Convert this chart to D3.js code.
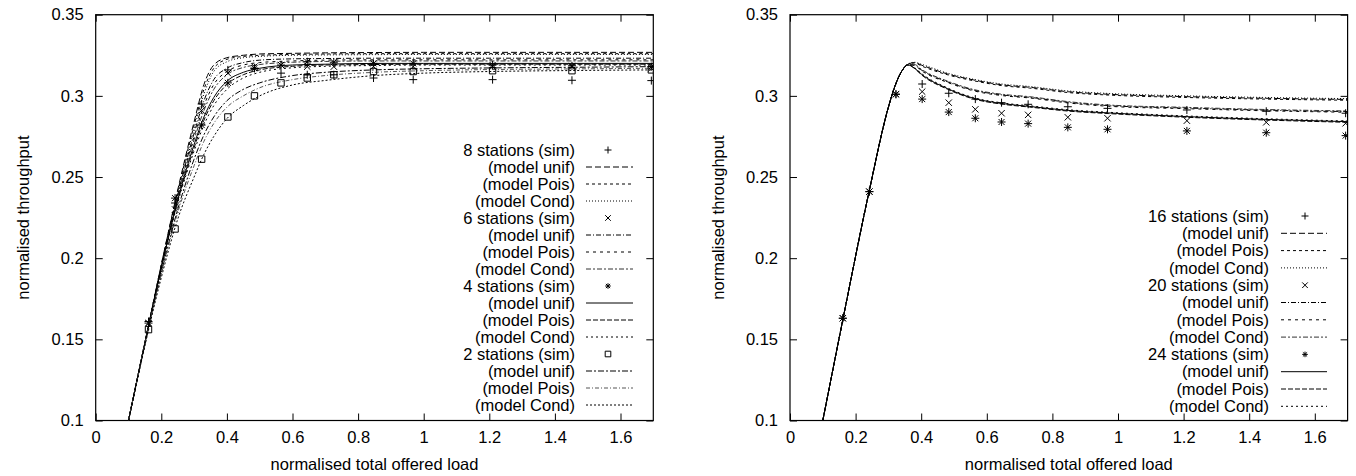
<!DOCTYPE html>
<html>
<head>
<meta charset="utf-8">
<script src="https://cdn.jsdelivr.net/npm/d3@7"></script>
<style>
body { margin: 0; background: #fff; }
text { font-family: "Liberation Sans", Arial, Helvetica, sans-serif; fill: #000; }
</style>
</head>
<body>
<svg id="chart"></svg>
<script>
const width = 1356;
const height = 476;

// tick labels
const xTicks = [0, 0.2, 0.4, 0.6, 0.8, 1, 1.2, 1.4, 1.6];
const yTicks = [0.1, 0.15, 0.2, 0.25, 0.3, 0.35];

// simulated load points (same in both panels)
const simLoad = [0.161, 0.242, 0.323, 0.403, 0.484, 0.565, 0.645, 0.726, 0.847, 0.968, 1.21, 1.452, 1.694];

// left panel: 8, 6, 4, 2 stations
const sim8 = [0.161, 0.234, 0.295, 0.316, 0.317, 0.314, 0.313, 0.313, 0.311, 0.310, 0.310, 0.3096, 0.3094];
const sim6 = [0.160, 0.230, 0.291, 0.314, 0.318, 0.319, 0.318, 0.318, 0.318, 0.318, 0.318, 0.318, 0.317];
const sim4 = [0.160, 0.237, 0.282, 0.308, 0.317, 0.319, 0.321, 0.3207, 0.320, 0.320, 0.319, 0.3185, 0.318];
const sim2 = [0.156, 0.218, 0.261, 0.287, 0.300, 0.308, 0.311, 0.313, 0.315, 0.315, 0.3155, 0.3155, 0.316];

const modelLoadL = [0.1, 0.15, 0.2, 0.25, 0.3, 0.33, 0.36, 0.4, 0.45, 0.5, 0.6, 0.7, 0.85, 1.0, 1.2, 1.45, 1.7];
const unif8 = [0.1, 0.148, 0.196, 0.242, 0.284, 0.307, 0.319, 0.3235, 0.325, 0.3258, 0.3262, 0.3265, 0.3267, 0.3268, 0.3268, 0.3268, 0.3268];
const pois8 = [0.1, 0.148, 0.196, 0.241, 0.282, 0.304, 0.317, 0.3225, 0.3243, 0.325, 0.3255, 0.3258, 0.326, 0.326, 0.326, 0.326, 0.326];
const cond8 = [0.1, 0.148, 0.195, 0.24, 0.28, 0.301, 0.315, 0.321, 0.3235, 0.3243, 0.325, 0.3252, 0.3254, 0.3255, 0.3255, 0.3255, 0.3255];
const unif6 = [0.1, 0.148, 0.195, 0.239, 0.277, 0.297, 0.31, 0.317, 0.3205, 0.322, 0.3228, 0.323, 0.3232, 0.3232, 0.3232, 0.3232, 0.3232];
const pois6 = [0.1, 0.148, 0.195, 0.238, 0.275, 0.294, 0.307, 0.315, 0.319, 0.3205, 0.3215, 0.322, 0.3222, 0.3222, 0.3222, 0.3222, 0.3222];
const cond6 = [0.1, 0.148, 0.194, 0.237, 0.273, 0.291, 0.304, 0.313, 0.3175, 0.3193, 0.3207, 0.3212, 0.3215, 0.3215, 0.3215, 0.3215, 0.3215];
const unif4 = [0.1, 0.148, 0.194, 0.236, 0.27, 0.287, 0.299, 0.309, 0.3145, 0.317, 0.319, 0.3195, 0.32, 0.32, 0.32, 0.32, 0.32];
const pois4 = [0.1, 0.147, 0.194, 0.235, 0.268, 0.285, 0.297, 0.307, 0.313, 0.316, 0.3182, 0.319, 0.3193, 0.3195, 0.3195, 0.3195, 0.3195];
const cond4 = [0.1, 0.147, 0.193, 0.234, 0.266, 0.282, 0.294, 0.304, 0.311, 0.3145, 0.3173, 0.3182, 0.3187, 0.319, 0.319, 0.319, 0.319];
const unif2 = [0.1, 0.147, 0.191, 0.23, 0.261, 0.276, 0.287, 0.297, 0.304, 0.308, 0.3125, 0.3145, 0.316, 0.3167, 0.3172, 0.3176, 0.318];
const pois2 = [0.1, 0.147, 0.19, 0.228, 0.257, 0.272, 0.283, 0.293, 0.3, 0.305, 0.31, 0.3125, 0.3145, 0.3155, 0.3162, 0.3166, 0.317];
const cond2 = [0.1, 0.146, 0.188, 0.224, 0.25, 0.264, 0.275, 0.286, 0.294, 0.3, 0.3067, 0.3095, 0.3125, 0.314, 0.315, 0.3156, 0.316];

// right panel: 16, 20, 24 stations
const sim16 = [0.163, 0.241, 0.301, 0.3073, 0.3016, 0.298, 0.2958, 0.2948, 0.2933, 0.2923, 0.2913, 0.2905, 0.2893];
const sim20 = [0.163, 0.241, 0.301, 0.3026, 0.2958, 0.2917, 0.2893, 0.2883, 0.2868, 0.2862, 0.2847, 0.2837, 0.2831];
const sim24 = [0.163, 0.241, 0.301, 0.298, 0.290, 0.2862, 0.2839, 0.2829, 0.2806, 0.2794, 0.2784, 0.2773, 0.2755];

const modelLoadR = [0.1, 0.16, 0.24, 0.3, 0.32, 0.34, 0.36, 0.38, 0.4, 0.48, 0.56, 0.65, 0.73, 0.85, 0.97, 1.21, 1.45, 1.7];
const unif16 = [0.1, 0.161, 0.24, 0.293, 0.306, 0.315, 0.3195, 0.3205, 0.319, 0.3135, 0.3098, 0.3067, 0.3053, 0.3025, 0.301, 0.2995, 0.2985, 0.2978];
const pois16 = [0.1, 0.161, 0.24, 0.293, 0.306, 0.315, 0.3195, 0.3203, 0.3185, 0.313, 0.3093, 0.3062, 0.3048, 0.302, 0.3005, 0.299, 0.298, 0.2973];
const cond16 = [0.1, 0.161, 0.24, 0.293, 0.306, 0.315, 0.3197, 0.3207, 0.3195, 0.314, 0.3102, 0.3072, 0.3058, 0.303, 0.3015, 0.3, 0.299, 0.2983];
const unif20 = [0.1, 0.161, 0.24, 0.293, 0.306, 0.315, 0.3193, 0.319, 0.316, 0.3087, 0.3035, 0.3005, 0.2991, 0.296, 0.294, 0.2925, 0.2912, 0.2903];
const pois20 = [0.1, 0.161, 0.24, 0.293, 0.306, 0.315, 0.3192, 0.3187, 0.3156, 0.3083, 0.3031, 0.3001, 0.2987, 0.2956, 0.2936, 0.2921, 0.2908, 0.2899];
const cond20 = [0.1, 0.161, 0.24, 0.293, 0.306, 0.315, 0.3194, 0.3193, 0.3164, 0.3091, 0.3039, 0.3009, 0.2995, 0.2964, 0.2944, 0.2929, 0.2916, 0.2907];
const unif24 = [0.1, 0.161, 0.24, 0.293, 0.306, 0.315, 0.319, 0.317, 0.3135, 0.3045, 0.2985, 0.2952, 0.2935, 0.291, 0.2895, 0.2872, 0.2855, 0.2841];
const pois24 = [0.1, 0.161, 0.24, 0.293, 0.306, 0.315, 0.319, 0.3168, 0.3131, 0.3041, 0.2981, 0.2948, 0.2931, 0.2906, 0.2891, 0.2868, 0.2851, 0.2837];
const cond24 = [0.1, 0.161, 0.24, 0.293, 0.306, 0.315, 0.3191, 0.3173, 0.3139, 0.3049, 0.2989, 0.2956, 0.2939, 0.2914, 0.2899, 0.2876, 0.2859, 0.2845];

const svg = d3.select("#chart").attr("width", width).attr("height", height);
svg.append("rect").attr("width", width).attr("height", height).attr("fill", "#fff");

// marker shapes
function markerPath(type, s) {
	const p = d3.path();
	if (type === "plus" || type === "star") {
		p.moveTo(-s, 0); p.lineTo(s, 0);
		p.moveTo(0, -s); p.lineTo(0, s);
	}
	if (type === "cross" || type === "star") {
		const c = type === "star" ? s * 0.75 : s;
		p.moveTo(-c, -c); p.lineTo(c, c);
		p.moveTo(-c, c); p.lineTo(c, -c);
	}
	if (type === "square") {
		p.rect(-s, -s, 2 * s, 2 * s);
	}
	return p.toString();
}

function drawPanel(box, sims, models, loads, legend, idx) {
	const x = d3.scaleLinear().domain([0, 1.7]).range([box.left, box.right]);
	const y = d3.scaleLinear().domain([0.1, 0.35]).range([box.bottom, box.top]);
	const g = svg.append("g");

	const clipId = "clip" + idx;
	svg.append("clipPath").attr("id", clipId)
		.append("rect")
		.attr("x", box.left).attr("y", box.top)
		.attr("width", box.right - box.left).attr("height", box.bottom - box.top);

	// axes, ticks pointing inward and mirrored
	const fmt = d => String(+d.toFixed(2));
	g.append("g").attr("transform", `translate(0,${box.bottom})`)
		.call(d3.axisBottom(x).tickValues(xTicks).tickFormat(fmt).tickSize(-7).tickPadding(11));
	g.append("g").attr("transform", `translate(0,${box.top})`)
		.call(d3.axisTop(x).tickValues(xTicks).tickFormat("").tickSize(-7));
	g.append("g").attr("transform", `translate(${box.left},0)`)
		.call(d3.axisLeft(y).tickValues(yTicks).tickFormat(fmt).tickSize(-7).tickPadding(12));
	g.append("g").attr("transform", `translate(${box.right},0)`)
		.call(d3.axisRight(y).tickValues(yTicks).tickFormat("").tickSize(-7));
	g.selectAll(".domain").remove();
	g.selectAll(".tick line").attr("stroke", "#000").attr("stroke-width", 1);
	g.selectAll(".tick text").style("font-size", "16.5px").attr("fill", "#000");

	g.append("rect")
		.attr("x", box.left).attr("y", box.top)
		.attr("width", box.right - box.left).attr("height", box.bottom - box.top)
		.attr("fill", "none").attr("stroke", "#000").attr("stroke-width", 1.2);

	// axis titles
	g.append("text")
		.attr("x", (box.left + box.right) / 2).attr("y", 464)
		.attr("text-anchor", "middle").attr("dy", "0.35em")
		.style("font-size", "16.5px")
		.text("normalised total offered load");
	g.append("text")
		.attr("transform", `translate(${box.left - 72},${(box.top + box.bottom) / 2}) rotate(-90)`)
		.attr("text-anchor", "middle").attr("dy", "0.35em")
		.style("font-size", "16.5px")
		.text("normalised throughput");

	// model curves
	const line = d3.line()
		.x(d => x(d[0]))
		.y(d => y(d[1]))
		.curve(d3.curveMonotoneX);
	const plot = g.append("g").attr("clip-path", `url(#${clipId})`);
	models.forEach(m => {
		plot.append("path")
			.attr("d", line(loads.map((l, i) => [l, m.values[i]])))
			.attr("fill", "none")
			.attr("stroke", m.color)
			.attr("stroke-width", 1)
			.attr("stroke-dasharray", m.dash);
	});

	// simulation points
	sims.forEach(s => {
		plot.selectAll(null)
			.data(simLoad.map((l, i) => [l, s.values[i]]))
			.join("path")
			.attr("transform", d => `translate(${x(d[0])},${y(d[1])})`)
			.attr("d", markerPath(s.marker, s.size))
			.attr("fill", "none")
			.attr("stroke", "#000")
			.attr("stroke-width", 1);
	});

	// legend
	const lg = g.append("g");
	legend.rows.forEach((r, i) => {
		const ry = legend.y0 + i * legend.dy;
		lg.append("text")
			.attr("x", legend.textX).attr("y", ry)
			.attr("text-anchor", "end").attr("dy", "0.35em")
			.style("font-size", "16.5px")
			.text(r.label);
		if (r.marker) {
			lg.append("path")
				.attr("transform", `translate(${legend.markX},${ry})`)
				.attr("d", markerPath(r.marker, r.marker === "plus" ? 3.5 : 2.8))
				.attr("fill", "none").attr("stroke", "#000").attr("stroke-width", 1);
		} else {
			lg.append("line")
				.attr("x1", legend.lineX0).attr("x2", legend.lineX1)
				.attr("y1", ry).attr("y2", ry)
				.attr("stroke", r.color).attr("stroke-width", 1)
				.attr("stroke-dasharray", r.dash);
		}
	});
}

// left panel
const modelsL = [
	{ name: "8 unif", values: unif8, dash: "6,3", color: "#000" },
	{ name: "8 Pois", values: pois8, dash: "3,3", color: "#000" },
	{ name: "8 Cond", values: cond8, dash: "1,2", color: "#000" },
	{ name: "6 unif", values: unif6, dash: "5,2,1,2", color: "#000" },
	{ name: "6 Pois", values: pois6, dash: "3,4", color: "#000" },
	{ name: "6 Cond", values: cond6, dash: "5,2,2,2", color: "#333" },
	{ name: "4 unif", values: unif4, dash: null, color: "#000" },
	{ name: "4 Pois", values: pois4, dash: "5,2", color: "#000" },
	{ name: "4 Cond", values: cond4, dash: "2,3", color: "#000" },
	{ name: "2 unif", values: unif2, dash: "6,2,2,2", color: "#000" },
	{ name: "2 Pois", values: pois2, dash: "4,2,1,2", color: "#555" },
	{ name: "2 Cond", values: cond2, dash: "2,2", color: "#000" }
];
const simsL = [
	{ values: sim8, marker: "plus", size: 4 },
	{ values: sim6, marker: "cross", size: 3.2 },
	{ values: sim4, marker: "star", size: 4 },
	{ values: sim2, marker: "square", size: 3.2 }
];
const stationsL = ["8", "6", "4", "2"];
const simMarkersL = ["plus", "cross", "star", "square"];
const rowsL = [];
stationsL.forEach((st, k) => {
	rowsL.push({ label: `${st} stations (sim)`, marker: simMarkersL[k] });
	["unif", "Pois", "Cond"].forEach((mn, j) => {
		const m = modelsL[k * 3 + j];
		rowsL.push({ label: `(model ${mn})`, dash: m.dash, color: m.color });
	});
});
drawPanel(
	{ left: 95.7, right: 653.3, top: 14.7, bottom: 420.5 },
	simsL, modelsL, modelLoadL,
	{ rows: rowsL, y0: 150, dy: 17, textX: 575, lineX0: 586, lineX1: 633, markX: 608 },
	0
);

// right panel
const modelsR = [
	{ name: "16 unif", values: unif16, dash: "6,3", color: "#000" },
	{ name: "16 Pois", values: pois16, dash: "3,3", color: "#000" },
	{ name: "16 Cond", values: cond16, dash: "1,2", color: "#000" },
	{ name: "20 unif", values: unif20, dash: "5,2,1,2", color: "#000" },
	{ name: "20 Pois", values: pois20, dash: "3,4", color: "#000" },
	{ name: "20 Cond", values: cond20, dash: "5,2,2,2", color: "#333" },
	{ name: "24 unif", values: unif24, dash: null, color: "#000" },
	{ name: "24 Pois", values: pois24, dash: "5,2", color: "#000" },
	{ name: "24 Cond", values: cond24, dash: "2,3", color: "#000" }
];
const simsR = [
	{ values: sim16, marker: "plus", size: 4 },
	{ values: sim20, marker: "cross", size: 3.2 },
	{ values: sim24, marker: "star", size: 4 }
];
const stationsR = ["16", "20", "24"];
const simMarkersR = ["plus", "cross", "star"];
const rowsR = [];
stationsR.forEach((st, k) => {
	rowsR.push({ label: `${st} stations (sim)`, marker: simMarkersR[k] });
	["unif", "Pois", "Cond"].forEach((mn, j) => {
		const m = modelsR[k * 3 + j];
		rowsR.push({ label: `(model ${mn})`, dash: m.dash, color: m.color });
	});
});
drawPanel(
	{ left: 790, right: 1347.6, top: 14.7, bottom: 420.5 },
	simsR, modelsR, modelLoadR,
	{ rows: rowsR, y0: 216, dy: 17.3, textX: 1269, lineX0: 1281, lineX1: 1327, markX: 1305 },
	1
);
</script>
</body>
</html>
